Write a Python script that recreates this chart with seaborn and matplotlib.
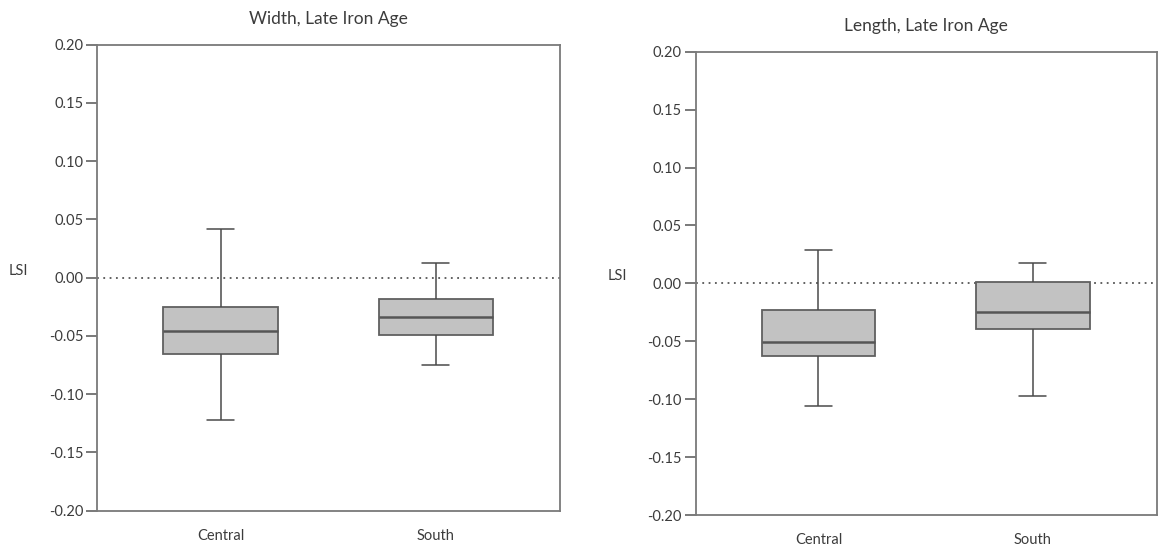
import numpy as np
import pandas as pd
import matplotlib
matplotlib.use("Agg")
import matplotlib.pyplot as plt
import seaborn as sns

sns.set_theme(style="white")
plt.rcParams['font.family'] = ['Lato', 'DejaVu Sans']

# Five-number summaries (min, Q1, median, Q3, max)
regions = ["Central", "South"]
width_central = [-0.1220, -0.0658, -0.0460, -0.0254, 0.0418]
width_south = [-0.0750, -0.0495, -0.0337, -0.0180, 0.0126]
length_central = [-0.1062, -0.0626, -0.0502, -0.0233, 0.0287]
length_south = [-0.0971, -0.0396, -0.0251, 0.0009, 0.0172]
yticks = [0.20, 0.15, 0.10, 0.05, 0.00, -0.05, -0.10, -0.15, -0.20]
titles = ["Width, Late Iron Age", "Length, Late Iron Age"]

def frame(central, south):
    return pd.DataFrame({
        "region": [regions[0]] * len(central) + [regions[1]] * len(south),
        "LSI": list(central) + list(south),
    })

fig = plt.figure(figsize=(11.59, 5.51), dpi=100)
ax1 = fig.add_axes([0.0840, 0.0731, 0.3995, 0.8457])
ax2 = fig.add_axes([0.6003, 0.0653, 0.3978, 0.8408])

spine_col = "#7a7a7a"
text_col = "#3c3c3c"

for ax, df, title in [(ax1, frame(width_central, width_south), titles[0]),
                      (ax2, frame(length_central, length_south), titles[1])]:
    ax.axhline(0, color="#555555", ls=(0, (1, 2.5)), lw=1.3, zorder=0)
    sns.boxplot(data=df, x="region", y="LSI", order=regions, ax=ax,
                whis=(0, 100), width=0.53, color="#c2c2c2",
                linecolor="#606060", linewidth=1.3, showfliers=False,
                saturation=1, capwidths=0.125,
                whiskerprops=dict(color="#4a4a4a", lw=1.1),
                capprops=dict(color="#4a4a4a", lw=1.1),
                medianprops=dict(color="#555555", lw=1.8),
                boxprops=dict(edgecolor="#606060", lw=1.3))
    ax.set_xlim(-0.572, 1.578)
    ax.set_ylim(-0.20, 0.20)
    ax.set_yticks(yticks)
    ax.set_yticklabels([f"{v:.2f}" for v in yticks])
    ax.set_xlabel("")
    ax.set_ylabel("LSI", rotation=0, color=text_col, fontsize=10.5)
    ax.yaxis.set_label_coords(-0.17, 0.5)
    ax.set_title(title, color=text_col, fontsize=12.5, pad=15)
    for s in ax.spines.values():
        s.set_visible(True)
        s.set_color(spine_col)
        s.set_linewidth(1.3)
    ax.tick_params(axis="y", length=8, width=1.1, color="#555555",
                   labelcolor=text_col, labelsize=10.5, left=True, pad=2)
    ax.tick_params(axis="x", length=0, labelcolor=text_col, labelsize=10.5, pad=13)

fig.savefig("out.png", dpi=100, facecolor="white")
